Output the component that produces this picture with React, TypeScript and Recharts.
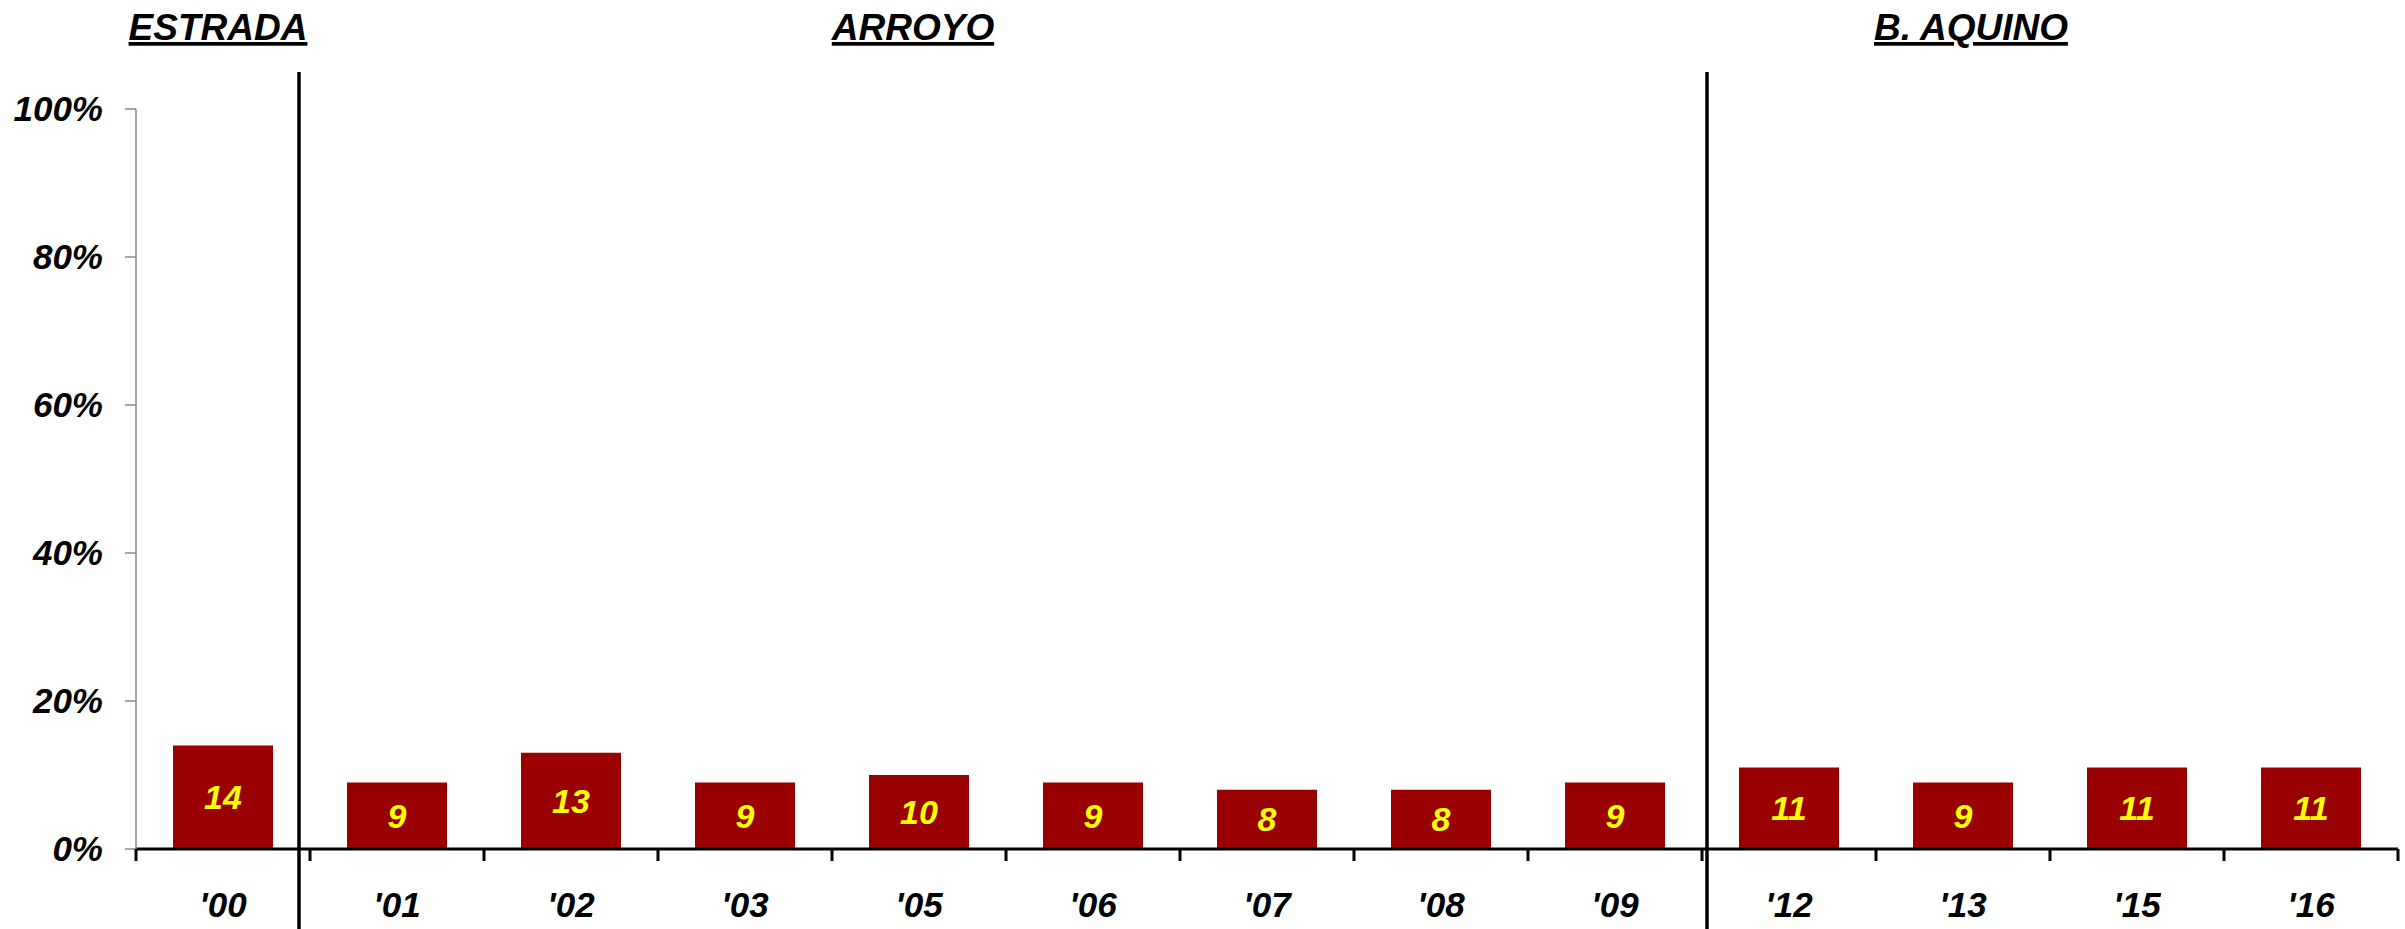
import React from "react"
import { BarChart, Bar, XAxis, YAxis, LabelList } from "recharts"

// chart data
const years = ["'00", "'01", "'02", "'03", "'05", "'06", "'07", "'08", "'09", "'12", "'13", "'15", "'16"]
const shares = [14, 9, 13, 9, 10, 9, 8, 8, 9, 11, 9, 11, 11]
const yTicks = [0, 20, 40, 60, 80, 100]
const presidents = ["ESTRADA", "ARROYO", "B. AQUINO"]

const data = years.map((year, i) => ({ year, value: shares[i] }))

// layout
const W = 2405
const H = 929
const PLOT_LEFT = 136
const PLOT_RIGHT = 2398
const BAND = (PLOT_RIGHT - PLOT_LEFT) / years.length
const FONT = "'Liberation Sans', Arial, sans-serif"

const textStyle = {
    fontFamily: FONT,
    fontWeight: "bold" as const,
    fontStyle: "italic" as const,
}

// x tick: label under the band + boundary tick marks
const YearTick = (props: any) => {
    const { x, y, payload, index } = props
    const left = x - BAND / 2
    const right = x + BAND / 2
    return (
        <g>
            <line x1={left} y1={y} x2={left} y2={y + 12} stroke="#000" strokeWidth={3} />
            {index === years.length - 1 && (
                <line x1={right} y1={y} x2={right} y2={y + 12} stroke="#000" strokeWidth={3} />
            )}
            <text x={x} y={y + 68} textAnchor="middle" fontSize={35} fill="#000" style={textStyle}>
                {payload.value}
            </text>
        </g>
    )
}

export default function App() {
    const sep1 = PLOT_LEFT + BAND * 1 - 11
    const sep2 = PLOT_LEFT + BAND * 9 + 5
    const titleX = [218, 913, 1971]

    return (
        <div style={{ position: "absolute", left: 0, top: 0, width: W, height: H, background: "#fff" }}>
            <BarChart
                width={W}
                height={H}
                data={data}
                margin={{ top: 109, right: W - PLOT_RIGHT, bottom: 0, left: 0 }}
            >
                <XAxis
                    dataKey="year"
                    height={80}
                    axisLine={{ stroke: "#000", strokeWidth: 3 }}
                    tickLine={false}
                    tickSize={0}
                    tickMargin={0}
                    interval={0}
                    tick={<YearTick />}
                />
                <YAxis
                    width={PLOT_LEFT}
                    domain={[0, 100]}
                    ticks={yTicks}
                    tickFormatter={(v) => `${v}%`}
                    axisLine={{ stroke: "#888", strokeWidth: 1.5 }}
                    tickLine={{ stroke: "#888", strokeWidth: 1.5 }}
                    tickSize={11}
                    tickMargin={22}
                    tick={{ fill: "#000", fontSize: 35, ...textStyle }}
                />
                <Bar dataKey="value" fill="#990000" barSize={100} isAnimationActive={false}>
                    <LabelList
                        dataKey="value"
                        position="center"
                        fill="#FFFF00"
                        fontSize={34}
                        style={textStyle}
                    />
                </Bar>
            </BarChart>
            <svg
                width={W}
                height={H}
                style={{ position: "absolute", left: 0, top: 0, pointerEvents: "none" }}
            >
                <line x1={sep1} y1={72} x2={sep1} y2={H} stroke="#000" strokeWidth={3.5} />
                <line x1={sep2} y1={72} x2={sep2} y2={H} stroke="#000" strokeWidth={3.5} />
                {presidents.map((name, i) => (
                    <text
                        key={name}
                        x={titleX[i]}
                        y={40}
                        textAnchor="middle"
                        fontSize={37}
                        fill="#000"
                        textDecoration="underline"
                        style={{ ...textStyle, textDecoration: "underline" }}
                    >
                        {name}
                    </text>
                ))}
            </svg>
        </div>
    )
}
